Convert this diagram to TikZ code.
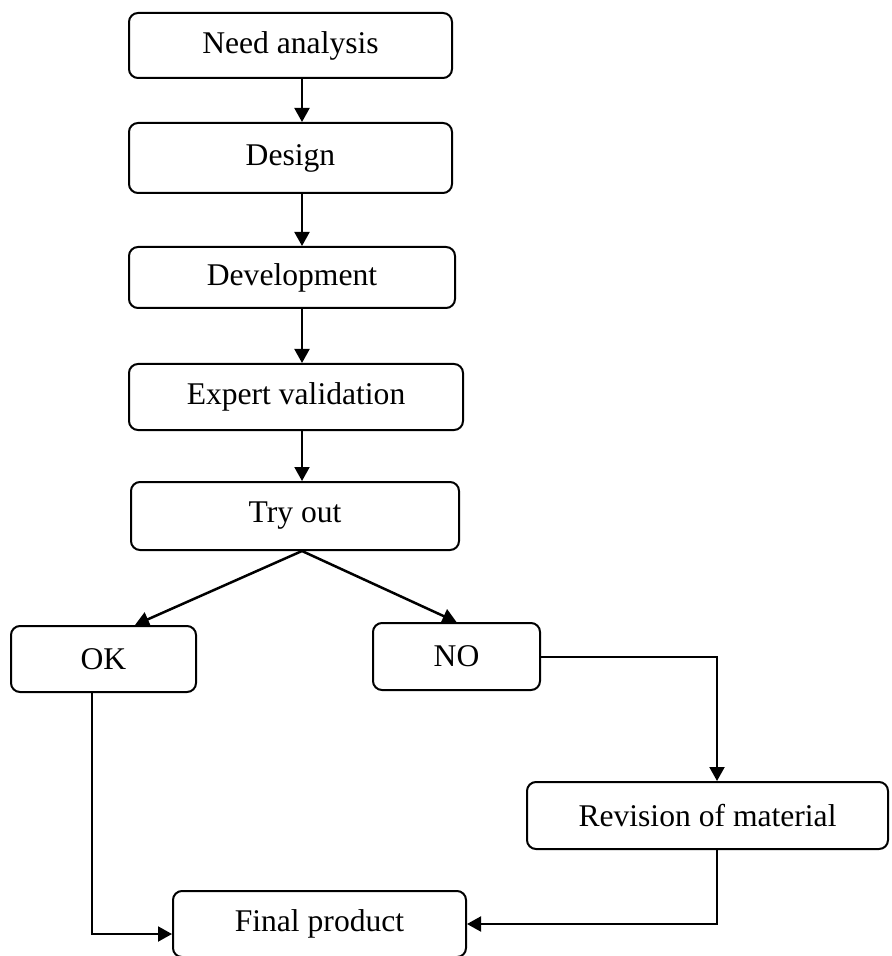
\documentclass[tikz,border=0pt]{standalone}
\usepackage{fontspec}
\setmainfont{Liberation Serif}
\usetikzlibrary{arrows.meta,positioning}
\tikzstyle{post}=[->,>={Triangle[length=7pt,width=7.5pt]},line width=1pt]
\tikzstyle{stage}=[draw,line width=1pt,rounded corners=4.5pt,align=center,inner sep=0pt,
font=\fontsize{15.8}{19}\selectfont]

\begin{document}
\begin{tikzpicture}[x=0.5pt,y=-0.5pt]
\useasboundingbox (0,0) rectangle (891,956);

\node[stage,minimum width=161.5pt,minimum height=32.5pt] (need)   at (290.5,45.5) {Need analysis};
\node[stage,minimum width=161.5pt,minimum height=35pt]   (design) at (290.5,158)  {Design};
\node[stage,minimum width=163pt,minimum height=30.5pt]   (dev)    at (292,277.5)  {Development};
\node[stage,minimum width=167pt,minimum height=33pt]     (expert) at (296,397)    {Expert validation};
\node[stage,minimum width=164pt,minimum height=34pt]     (try)    at (295,516)    {Try out};
\node[stage,minimum width=92.5pt,minimum height=33pt]    (ok)     at (103.5,659)  {OK};
\node[stage,minimum width=83.5pt,minimum height=33.5pt]  (no)     at (456.5,656.5) {NO};
\node[stage,minimum width=180.5pt,minimum height=33.5pt] (rev)    at (707.5,815.5) {Revision of material};
\node[stage,minimum width=146.5pt,minimum height=33pt]   (final)  at (319.5,924)  {Final product};

\coordinate (spine) at (302,0);
\coordinate (okin)  at (135,0);
\coordinate (okout) at (92,0);
\coordinate (loop)  at (717,0);

\draw[post] (need.south -| spine) -- (design.north -| spine);
\draw[post] (design.south -| spine) -- (dev.north -| spine);
\draw[post] (dev.south -| spine) -- (expert.north -| spine);
\draw[post] (expert.south -| spine) -- (try.north -| spine);

\draw[post,line width=1.25pt] (try.south -| spine) -- (ok.north -| okin);
\draw[post,line width=1.25pt] (try.south -| spine) -- (no.north);

\draw[post] (no.east) -| (rev.north -| loop);
\draw[post] (rev.south -| loop) |- (final.east);
\draw[post] (ok.south -| okout) |- ([yshift=-5pt]final.west);

\end{tikzpicture}
\end{document}
